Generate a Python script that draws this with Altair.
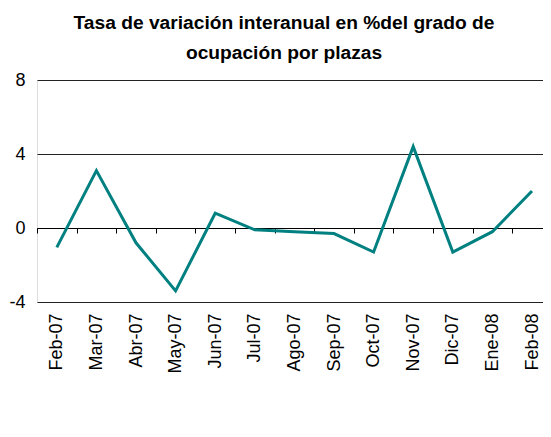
import altair as alt
import pandas as pd
import json

months = ["Feb-07", "Mar-07", "Abr-07", "May-07", "Jun-07", "Jul-07", "Ago-07",
          "Sep-07", "Oct-07", "Nov-07", "Dic-07", "Ene-08", "Feb-08"]
values = [-1.05, 3.1, -0.8, -3.4, 0.8, -0.1, -0.2, -0.3, -1.3, 4.4, -1.3, -0.2, 2.0]
y_ticks = [-4, 0, 4, 8]
title_lines = ["Tasa de variación interanual en %del grado de", "ocupación por plazas"]

df = pd.DataFrame({"idx": list(range(len(months))), "mes": months, "valor": values})

FONT = "Liberation Sans"
W, H = 506, 222
STEP = 39.6  # width of one month slot
x_max = -0.5 + W / STEP

chart = alt.Chart(df).mark_line(color="#008080", strokeWidth=3).encode(
    x=alt.X(
        "idx:Q",
        scale=alt.Scale(domain=[-0.5, x_max], nice=False, zero=False),
        axis=alt.Axis(
            title=None,
            orient="bottom",
            offset=-74,
            values=list(range(len(months))),
            labelExpr=json.dumps(months) + "[datum.value]",
            labelAngle=-90,
            labelFont=FONT,
            labelFontSize=18,
            labelColor="#000000",
            labelPadding=80,
            labelFlush=False,
            labelOverlap=False,
            tickOffset=-STEP / 2,
            labelOffset=STEP / 2,
            tickSize=5,
            tickColor="#000000",
            domainColor="#000000",
            grid=False,
        ),
    ),
    y=alt.Y(
        "valor:Q",
        scale=alt.Scale(domain=[-4, 8], nice=False, zero=False),
        axis=alt.Axis(
            title=None,
            values=y_ticks,
            labelExpr="'' + datum.value",
            labelFont=FONT,
            labelFontSize=18,
            labelColor="#000000",
            labelPadding=12,
            ticks=False,
            domain=False,
            grid=True,
            gridColor="#222222",
            gridWidth=1,
        ),
    ),
).properties(
    width=W,
    height=H,
    title=alt.TitleParams(
        text=title_lines,
        font=FONT,
        fontSize=19.2,
        fontWeight="bold",
        color="#000000",
        lineHeight=30,
        anchor="middle",
        dx=-6,
        offset=8,
    ),
    autosize=alt.AutoSizeParams(type="none"),
    padding={"left": 29, "top": 72, "right": 0, "bottom": 100},
).configure_view(stroke=None).configure(background="#ffffff")

chart.save("out.html", embed_options={"renderer": "svg", "actions": False})
